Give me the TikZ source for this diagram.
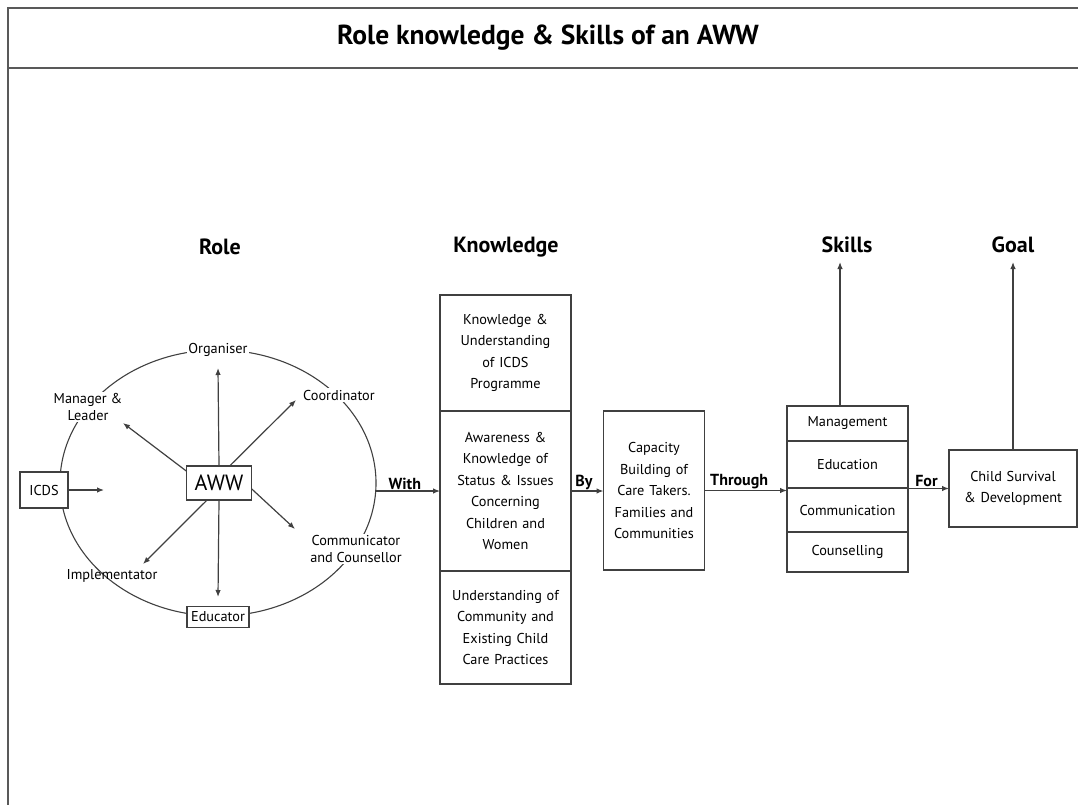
\documentclass[tikz,border=0pt]{standalone}
\usepackage{fontspec}
\setmainfont{PT Sans}
\usetikzlibrary{arrows.meta,shapes.geometric}
\begin{document}
\begin{tikzpicture}[x=1pt,y=-1pt,
  lc/.style={draw=black!75},
  frameline/.style={draw=black!65, line width=1.8pt},
  box/.style={lc, line width=1.1pt, fill=white, align=center, inner sep=2pt, outer sep=0pt,
    font=\fontsize{14.3}{21.5}\selectfont},
  lbl/.style={fill=white, align=center, inner sep=1.5pt, font=\fontsize{14.3}{21}\selectfont},
  head/.style={font=\fontsize{22}{24}\selectfont\bfseries},
  word/.style={font=\fontsize{16}{18}\selectfont\bfseries, inner sep=1pt},
  arr/.style={lc, line width=1.2pt, -{Latex[length=7pt,width=5.5pt]}},
  ]
\useasboundingbox (0,0) rectangle (1078,805);
% frame
\draw[frameline] (8,805) -- (8,8) -- (1078,8);
\draw[frameline] (8,68) -- (1078,68);
\node[font=\fontsize{27.5}{30}\selectfont\bfseries] (title) at (548,38) {Role knowledge \& Skills of an AWW};
% headings
\node[head] (hRole) at (220,247) {Role};
\node[head] (hKnow) at (506,247) {Knowledge};
\node[head] (hSkill) at (847,245) {Skills};
\node[head] (hGoal) at (1013,245) {Goal};
% ellipse
\node[lc, line width=1.1pt, ellipse, minimum width=316pt, minimum height=266pt, inner sep=0pt, outer sep=0pt] (ell) at (218,483) {};
% labels on ellipse
\node[lbl] (org) at (218,350) {Organiser};
\node[lbl] (mgr) at (88,407) {Manager \&\\[-4pt]Leader};
\node[lbl] (coord) at (339,395) {Coordinator};
\node[lbl] (comm) at (356,549) {Communicator\\[-4pt]and Counsellor};
\node[lbl, fill=none] (impl) at (112,576) {Implementator};
\node[box, minimum width=62pt, minimum height=21pt, inner sep=1pt] (edu) at (218,617) {Educator};
\node[box, minimum width=48pt, minimum height=36pt] (icds) at (44,490) {ICDS};
\node[box, minimum width=65pt, minimum height=34pt, font=\fontsize{22}{24}\selectfont] (aww) at (219,483) {AWW};
% free ends
\coordinate (icdsT) at (104,490);
\coordinate (upT) at (218,368);
\coordinate (dnT) at (218,597);
\coordinate (ulT) at (123,423);
\coordinate (urT) at (296,400);
\coordinate (lrT) at (295,529);
\coordinate (llT) at (143,564);
\draw[arr] (icds.east) -- (icdsT);
\draw[arr] (aww.north) -- (upT);
\draw[arr] (aww.south) -- (dnT);
\draw[arr] (aww.160) -- (ulT);
\draw[arr] (aww.58) -- (urT);
\draw[arr] (aww.-10) -- (lrT);
\draw[arr] (aww.-125) -- (llT);
% knowledge column
\node[box, minimum width=131pt, minimum height=116pt, text width=125pt] (k1) at (505.5,353) {Knowledge \&\\Understanding\\of ICDS\\Programme};
\node[box, minimum width=131pt, minimum height=160pt, text width=125pt] (k2) at (505.5,491) {Awareness \&\\Knowledge of\\Status \& Issues\\Concerning\\Children and\\Women};
\node[box, minimum width=131pt, minimum height=113pt, text width=127pt] (k3) at (505.5,627.5) {Understanding of\\Community and\\Existing Child\\Care Practices};
% capacity
\node[box, minimum width=100pt, minimum height=159pt, text width=97pt] (cap) at (654,490.5) {Capacity\\Building of\\Care Takers.\\Families and\\Communities};
% skills
\node[box, minimum width=121pt, minimum height=35pt, text width=116pt] (s1) at (847.5,423.5) {Management};
\node[box, minimum width=121pt, minimum height=47pt, text width=116pt] (s2) at (847.5,464.5) {Education};
\node[box, minimum width=121pt, minimum height=44pt, text width=116pt] (s3) at (847.5,510) {Communication};
\node[box, minimum width=121pt, minimum height=40pt, text width=116pt] (s4) at (847.5,552) {Counselling};
% goal
\node[box, minimum width=128pt, minimum height=77pt, text width=124pt] (goal) at (1013,488.5) {Child Survival\\\& Development};
% connectors
\draw[arr] (k2.west -| ell.east) -- node[word, above, pos=0.45] {With} (k2.west);
\draw[arr] (k2.east) -- node[word, above, pos=0.4] {By} (k2.east -| cap.west);
\draw[arr] (cap.east) -- node[word, above, pos=0.42] {Through} (cap.east -| s2.south west);
\draw[arr] (goal.west -| s3.east) -- node[word, above, pos=0.45] {For} (goal.west);
\coordinate (skT) at (840,262);
\coordinate (goT) at (1013,262);
\draw[arr] (s1.north -| skT) -- (skT);
\draw[arr] (goal.north) -- (goT);
\end{tikzpicture}
\end{document}
